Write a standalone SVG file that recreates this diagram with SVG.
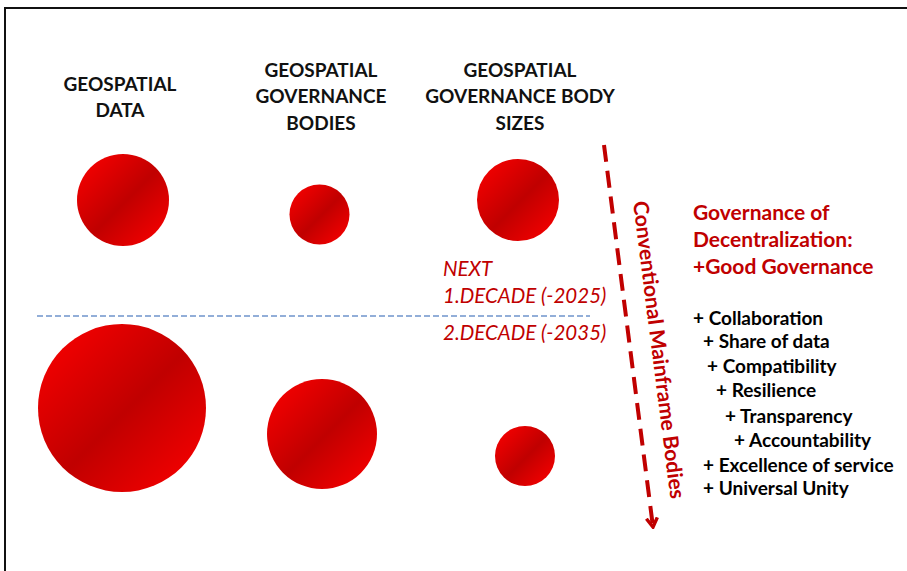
<svg xmlns="http://www.w3.org/2000/svg" width="907" height="571" viewBox="0 0 907 571">
  <style>
    .hdr { font-family: Lato, "Liberation Sans", sans-serif; font-weight: bold; font-size: 19px; fill: #111; text-anchor: middle; }
    .red { font-family: Lato, "Liberation Sans", sans-serif; font-weight: bold; font-size: 21px; fill: #c00000; }
    .item { font-family: Lato, "Liberation Sans", sans-serif; font-weight: bold; font-size: 19px; fill: #000; }
    .era { font-family: Lato, "Liberation Sans", sans-serif; font-style: italic; font-size: 20.5px; fill: #c00000; }
    .ball { fill: url(#ballGrad); }
  </style>
  <defs>
    <linearGradient id="ballGrad" x1="0" y1="0" x2="1" y2="1">
      <stop offset="0" stop-color="#ff0000"/>
      <stop offset="0.52" stop-color="#c00000"/>
      <stop offset="1" stop-color="#ff0000"/>
    </linearGradient>
    <marker id="chevron" viewBox="0 0 12 14" refX="10" refY="7" markerWidth="12" markerHeight="14" markerUnits="userSpaceOnUse" orient="auto">
      <path d="M1,1.5 L10,7 L1,12.5" fill="none" stroke="#c00000" stroke-width="3.5" stroke-linejoin="miter"/>
    </marker>
  </defs>

  <rect width="907" height="571" fill="#ffffff"/>
  <!-- frame -->
  <path d="M5,571 V8 H907" fill="none" stroke="#111" stroke-width="2"/>

  <!-- column headers -->
  <g id="hdr-data">
    <text class="hdr" x="120" y="91">GEOSPATIAL</text>
    <text class="hdr" x="120" y="117">DATA</text>
  </g>
  <g id="hdr-bodies">
    <text class="hdr" x="321" y="77">GEOSPATIAL</text>
    <text class="hdr" x="321" y="103">GOVERNANCE</text>
    <text class="hdr" x="321" y="130">BODIES</text>
  </g>
  <g id="hdr-sizes">
    <text class="hdr" x="520" y="77">GEOSPATIAL</text>
    <text class="hdr" x="520" y="103">GOVERNANCE BODY</text>
    <text class="hdr" x="520" y="130">SIZES</text>
  </g>

  <!-- first decade -->
  <g id="data-now"><circle class="ball" cx="123" cy="200" r="46"/></g>
  <g id="bodies-now"><circle class="ball" cx="319.5" cy="214.5" r="30"/></g>
  <g id="sizes-now"><circle class="ball" cx="518" cy="200" r="41"/></g>

  <!-- second decade -->
  <g id="data-next"><circle class="ball" cx="122" cy="408" r="84"/></g>
  <g id="bodies-next"><circle class="ball" cx="322" cy="434" r="55"/></g>
  <g id="sizes-next"><circle class="ball" cx="525" cy="456" r="30"/></g>

  <!-- decade labels -->
  <g id="decades">
    <text class="era" x="443" y="276">NEXT</text>
    <text class="era" x="443" y="303">1.DECADE (-2025)</text>
    <text class="era" x="443" y="340">2.DECADE (-2035)</text>
  </g>

  <g id="connectors">
    <line x1="37" y1="316" x2="590" y2="316" stroke="#6f94cc" stroke-width="1.3" stroke-dasharray="6 3"/>
    <line x1="604" y1="145" x2="653" y2="527" stroke="#c00000" stroke-width="4" stroke-dasharray="17 9" marker-end="url(#chevron)"/>
  </g>

  <g id="mainframe-label">
    <text class="red" transform="translate(633,202) rotate(82.8)">Conventional Mainframe Bodies</text>
  </g>

  <g id="governance">
    <text class="red" x="693" y="220">Governance of</text>
    <text class="red" x="693" y="247">Decentralization:</text>
    <text class="red" x="693" y="274">+Good Governance</text>
  </g>

  <g id="principles">
    <text class="item" x="693" y="325">+ Collaboration</text>
    <text class="item" x="703" y="348">+ Share of data</text>
    <text class="item" x="707" y="373">+ Compatibility</text>
    <text class="item" x="716" y="397">+ Resilience</text>
    <text class="item" x="725" y="423">+ Transparency</text>
    <text class="item" x="734" y="447">+ Accountability</text>
    <text class="item" x="703" y="472">+ Excellence of service</text>
    <text class="item" x="703" y="495">+ Universal Unity</text>
  </g>
</svg>
